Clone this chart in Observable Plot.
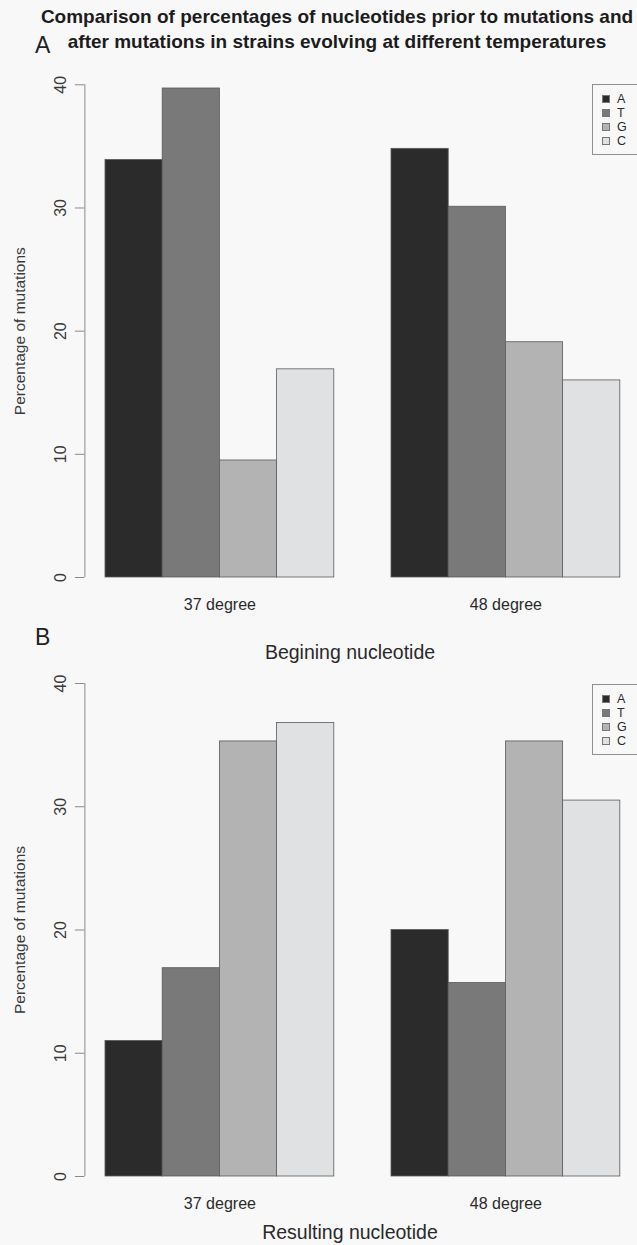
<!DOCTYPE html>
<html>
<head>
<meta charset="utf-8">
<script src="https://cdn.jsdelivr.net/npm/d3@7"></script>
<script src="https://cdn.jsdelivr.net/npm/@observablehq/plot@0.6"></script>
<style>
  html, body { margin: 0; padding: 0; background: #f8f8f8; overflow: hidden; }
  #page { position: relative; width: 637px; height: 1245px; overflow: hidden;
          font-family: "Liberation Sans", Arial, sans-serif; color: #222; }
  .abs { position: absolute; white-space: nowrap; }
  .title { left: 337px; top: 4px; transform: translateX(-50%); text-align: center;
           font-weight: bold; font-size: 19px; line-height: 25px; color: #1c1c1c; }
  .letter { font-size: 23px; line-height: 24px; color: #222; }
  .xtitle { transform: translateX(-50%); font-size: 19.5px; line-height: 22px; color: #2a2a2a; }
  .legend { border: 1px solid #8f8f8f; width: 70px; box-sizing: border-box; padding: 7px 0 6px 9px; }
  .legend .row { display: flex; align-items: center; height: 14px; line-height: 14px; font-size: 12.5px; color: #2a2a2a; }
  .legend .sw { width: 8px; height: 8px; border: 1px solid #777; margin-right: 7px; box-sizing: border-box; }
  .panel { left: 0; }
</style>
</head>
<body>
<div id="page">
  <div class="abs title">Comparison of percentages of nucleotides prior to mutations and<br>after mutations in strains evolving at different temperatures</div>
  <div class="abs letter" style="left:35px; top:33px;">A</div>
  <div class="abs letter" style="left:35px; top:625px;">B</div>
</div>
<script>
// Groups, categories and percentages
const temperatures = ["37 degree", "48 degree"];
const nucleotides = ["A", "T", "G", "C"];
const fills = ["#2b2b2b", "#797979", "#b3b3b3", "#dfe1e3"];

const beginning37 = [33.9, 39.7, 9.5, 16.9];
const beginning48 = [34.8, 30.1, 19.1, 16.0];
const resulting37 = [11.0, 16.9, 35.3, 36.8];
const resulting48 = [20.0, 15.7, 35.3, 30.5];

const yTicks = [0, 10, 20, 30, 40];
const yLabel = "Percentage of mutations";

// barplot layout: one bar-width of space before each group, bars touching inside a group
const barSpace = 1;
const groupStep = nucleotides.length + barSpace;

function rowsFor(groups) {
  const rows = [];
  groups.forEach((vals, g) => {
    vals.forEach((v, i) => {
      const x1 = barSpace + g * groupStep + i;
      rows.push({temperature: temperatures[g], nucleotide: nucleotides[i], value: v, x1, x2: x1 + 1});
    });
  });
  return rows;
}

const xLo = barSpace;
const xHi = temperatures.length * groupStep;
const xPad = 0.04 * (xHi - xLo);
const xDomain = [xLo - xPad, xHi + xPad];

function panel(groups, {top, height, marginTop, marginBottom, xTitle, xTitleY}) {
  const rows = rowsFor(groups);
  const chart = Plot.plot({
    width: 650,
    height,
    marginLeft: 84.4,
    marginRight: 9.6,
    marginTop,
    marginBottom,
    style: {background: "transparent", maxWidth: "none", fontFamily: "Liberation Sans, Arial, sans-serif", fontSize: "16px", color: "#3a3a3a", overflow: "visible"},
    x: {domain: xDomain, axis: null},
    y: {domain: [d3.min(yTicks), d3.max(yTicks)], axis: null},
    color: {domain: nucleotides, range: fills},
    marks: [
      Plot.rectY(rows, {x1: "x1", x2: "x2", y: "value", fill: "nucleotide", stroke: "#5a5a5a", strokeWidth: 0.8}),
      // y axis: line, ticks and rotated labels
      Plot.ruleX([xDomain[0]], {y1: d3.min(yTicks), y2: d3.max(yTicks), stroke: "#8a8a8a", strokeWidth: 1}),
      Plot.axisY({ticks: yTicks, tickSize: 9.5, tickFormat: () => "", label: null, stroke: "#8a8a8a"}),
      Plot.text(yTicks, {y: d => d, text: d => String(d), frameAnchor: "left", rotate: -90, dx: -24, lineAnchor: "middle", textAnchor: "middle", fill: "#3a3a3a", fontSize: 16}),
      Plot.text([yLabel], {frameAnchor: "left", rotate: -90, dx: -65, lineAnchor: "middle", textAnchor: "middle", fill: "#3a3a3a", fontSize: 15.5}),
      // group names under each cluster of bars
      Plot.text(temperatures, {x: (d, g) => barSpace + g * groupStep + nucleotides.length / 2, frameAnchor: "bottom", dy: 27, lineAnchor: "middle", fill: "#2a2a2a", fontSize: 16})
    ]
  });
  chart.classList.add("abs", "panel");
  chart.style.top = top + "px";
  document.getElementById("page").appendChild(chart);

  const t = document.createElement("div");
  t.className = "abs xtitle";
  t.style.left = "350px";
  t.style.top = (xTitleY - 11) + "px";
  t.textContent = xTitle;
  document.getElementById("page").appendChild(t);
}

function legend(top) {
  const box = document.createElement("div");
  box.className = "abs legend";
  box.style.left = "592px";
  box.style.top = top + "px";
  nucleotides.forEach((n, i) => {
    const row = document.createElement("div");
    row.className = "row";
    const sw = document.createElement("span");
    sw.className = "sw";
    sw.style.background = fills[i];
    const lab = document.createElement("span");
    lab.textContent = n;
    row.appendChild(sw);
    row.appendChild(lab);
    box.appendChild(row);
  });
  document.getElementById("page").appendChild(box);
}

panel([beginning37, beginning48], {top: 60, height: 612, marginTop: 24.3, marginBottom: 95, xTitle: "Begining nucleotide", xTitleY: 652});
panel([resulting37, resulting48], {top: 672, height: 573, marginTop: 11, marginBottom: 69, xTitle: "Resulting nucleotide", xTitleY: 1232});
legend(84);
legend(684);
</script>
</body>
</html>
